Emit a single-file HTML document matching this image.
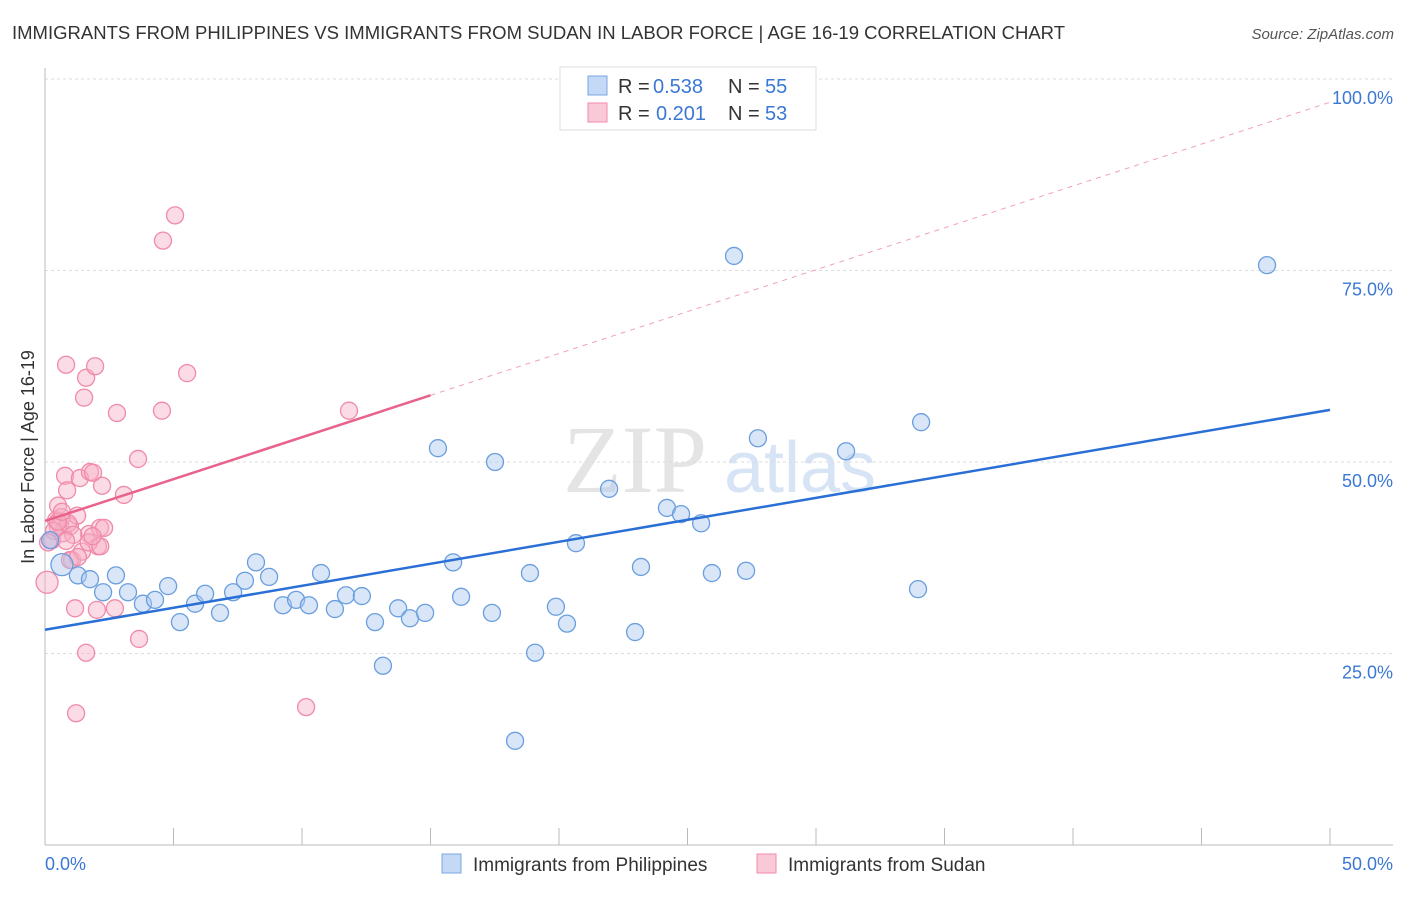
<!DOCTYPE html>
<html><head><meta charset="utf-8"><style>
body{margin:0;background:#fff;font-family:"Liberation Sans",sans-serif;}
</style></head><body>
<svg id="c" width="1406" height="892" xmlns="http://www.w3.org/2000/svg">
<text x="12" y="39" font-size="18" fill="#333" textLength="1053" lengthAdjust="spacingAndGlyphs">IMMIGRANTS FROM PHILIPPINES VS IMMIGRANTS FROM SUDAN IN LABOR FORCE | AGE 16-19 CORRELATION CHART</text>
<text x="1394" y="39" font-size="15" fill="#555" font-style="italic" text-anchor="end">Source: ZipAtlas.com</text>
<text x="635" y="492" font-size="96" fill="#e4e4e4" font-family="Liberation Serif,serif" text-anchor="middle">ZIP</text>
<text x="800" y="492" font-size="72" fill="#d6e4f5" text-anchor="middle">atlas</text>
<g id="grid"></g><g id="marks"></g>
<text transform="translate(34,457) rotate(-90)" font-size="18" fill="#333" text-anchor="middle">In Labor Force | Age 16-19</text>
<g font-size="20">
<rect x="560" y="67" width="256" height="63" fill="#fff" stroke="#ddd"/>
<rect x="588" y="76" width="19" height="19" fill="#c4d9f5" stroke="#7aa6e0"/>
<rect x="588" y="103" width="19" height="19" fill="#fac9d8" stroke="#f08aa8"/>
<text x="618" y="93" fill="#333">R =</text><text x="653" y="93" fill="#3a78d4">0.538</text>
<text x="728" y="93" fill="#333">N =</text><text x="765" y="93" fill="#3a78d4">55</text>
<text x="618" y="120" fill="#333">R =</text><text x="656" y="120" fill="#3a78d4">0.201</text>
<text x="728" y="120" fill="#333">N =</text><text x="765" y="120" fill="#3a78d4">53</text>
</g>
<g>
<rect x="442" y="854" width="19" height="19" fill="#c4d9f5" stroke="#7aa6e0"/>
<text x="473" y="871" font-size="19" fill="#333">Immigrants from Philippines</text>
<rect x="757" y="854" width="19" height="19" fill="#fac9d8" stroke="#f08aa8"/>
<text x="788" y="871" font-size="19" fill="#333">Immigrants from Sudan</text>
</g>
</svg>
<script>
const yTicks=[25,50,75,100];
const yTickLabels=["25.0%","50.0%","75.0%","100.0%"];
const xTickLabels=["0.0%","50.0%"];
const blueX=[0.66,1.28,1.75,2.26,2.76,3.23,3.81,4.28,4.79,5.25,5.84,6.23,6.81,7.32,7.78,8.21,8.72,9.26,9.77,10.27,10.74,11.28,11.71,12.33,12.84,13.15,13.74,14.2,14.79,15.29,15.88,16.19,17.39,17.51,18.29,18.87,19.07,19.88,20.31,20.66,21.95,22.96,23.19,24.2,24.75,25.53,25.95,26.81,27.28,27.74,31.17,33.97,34.09,47.55,0.2];
const blueY=[36.6,35.2,34.7,33.0,35.2,33.0,31.5,32.0,33.8,29.1,31.5,32.8,30.3,33.0,34.5,36.9,35.0,31.3,32.0,31.3,35.5,30.8,32.6,32.5,29.1,23.4,30.9,29.6,30.3,51.8,36.9,32.4,30.3,50.0,13.6,35.5,25.1,31.1,28.9,39.4,46.5,27.8,36.3,44.0,43.2,42.0,35.5,76.9,35.8,53.1,51.4,33.4,55.2,75.7,39.8];
const pinkX=[0.08,0.27,0.43,0.51,0.58,0.7,0.78,0.86,0.97,1.05,1.17,1.25,1.36,1.44,1.52,1.6,1.6,1.71,1.75,1.87,1.95,2.02,2.06,2.14,2.22,2.3,0.82,1.21,2.72,2.8,3.07,3.62,3.66,4.55,4.59,5.06,5.53,10.16,11.83,0.5,0.35,0.65,0.12,0.9,0.5,1.1,1.7,2.15,1.85,0.82,0.97,0.66,1.28];
const pinkY=[34.3,39.8,42.4,44.3,41.8,40.7,48.2,46.3,41.6,37.2,30.9,43.0,47.9,38.3,58.4,25.1,61.0,40.6,48.7,48.6,62.5,30.7,39.0,41.4,46.9,41.4,62.7,17.2,30.9,56.4,45.7,50.4,26.9,56.7,78.9,82.2,61.6,18.0,56.7,41.5,41.0,42.8,39.5,42.0,42.2,40.5,39.5,39.0,40.3,39.7,37.2,43.5,37.6];
const blueLine=[28.1,56.8];
const pinkLine=[42.3,58.7,15.0];
const NS="http://www.w3.org/2000/svg";
const X0=45,X1=1330,YB=845,YT=79;
const sx=v=>X0+(v/50)*(X1-X0);
const sy=v=>YB-(v/100)*(YB-YT);
function mk(tag,at,parent){const e=document.createElementNS(NS,tag);for(const k in at)e.setAttribute(k,at[k]);parent.appendChild(e);return e;}
const g=document.getElementById('grid'),m=document.getElementById('marks');
yTicks.forEach((t,i)=>{
 const l=mk('line',{x1:X0,x2:1393,y1:sy(t),y2:sy(t),stroke:'#ddd','stroke-dasharray':'3,3'},g);
 
 
 const tx=mk('text',{x:1393,y:sy(t)+25,'font-size':18,fill:'#3a78d4','text-anchor':'end'},g);
 tx.textContent=yTickLabels[i];
 
 
});
const ax=mk('line',{x1:X0,x2:X0,y1:68,y2:YB,stroke:'#bbb'},g);


const bx=mk('line',{x1:X0,x2:1393,y1:YB,y2:YB,stroke:'#bbb'},g);


for(let i=1;i<=10;i++){const t=mk('line',{x1:sx(i*5),x2:sx(i*5),y1:YB,y2:YB-17,stroke:'#bbb'},g);
 
 }
[[0,'start'],[50,'end']].forEach((p,i)=>{const t=mk('text',{x:i?1393:X0,y:870,'font-size':18,fill:'#3a78d4','text-anchor':p[1]},g);t.textContent=xTickLabels[i];
 
 });
function pts(xs,ys,fill,stroke,name){xs.forEach((x,i)=>{const c=mk('circle',{cx:sx(x),cy:sy(ys[i]),r:i==0?11:8.5,fill:fill,'fill-opacity':0.45,stroke:stroke,'stroke-width':1.3},m);
 
 });}
pts(pinkX,pinkY,'#f6b0c5','#f08aa8','sudan-point');
pts(blueX,blueY,'#a9c8f0','#6a9ede','philippines-point');
const slope=(pinkLine[1]-pinkLine[0])/pinkLine[2];
const pd=mk('line',{x1:sx(pinkLine[2]),y1:sy(pinkLine[1]),x2:sx(50),y2:sy(pinkLine[0]+slope*50),stroke:'#f0a0b8','stroke-dasharray':'5,5','stroke-width':1},m);


const ps=mk('line',{x1:sx(0),y1:sy(pinkLine[0]),x2:sx(pinkLine[2]),y2:sy(pinkLine[1]),stroke:'#e8628c','stroke-width':2.5},m);


const bl=mk('line',{x1:sx(0),y1:sy(blueLine[0]),x2:sx(50),y2:sy(blueLine[1]),stroke:'#2a6fd6','stroke-width':2.5},m);


</script>
</body></html>
